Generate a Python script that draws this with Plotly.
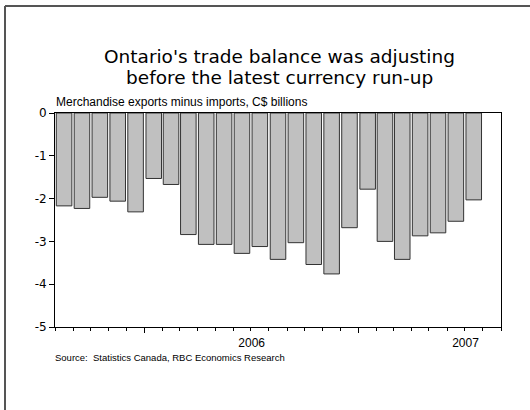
import plotly.graph_objects as go

# Ontario merchandise trade balance, monthly, C$ billions
months = [
    "2005-08", "2005-09", "2005-10", "2005-11", "2005-12",
    "2006-01", "2006-02", "2006-03", "2006-04", "2006-05", "2006-06",
    "2006-07", "2006-08", "2006-09", "2006-10", "2006-11", "2006-12",
    "2007-01", "2007-02", "2007-03", "2007-04", "2007-05", "2007-06",
    "2007-07",
]
balance = [
    -2.17, -2.23, -1.97, -2.06, -2.31,
    -1.53, -1.67, -2.84, -3.07, -3.07, -3.28,
    -3.12, -3.42, -3.03, -3.54, -3.76, -2.68,
    -1.78, -3.00, -3.42, -2.87, -2.80, -2.53,
    -2.03,
]
y_ticks = [0, -1, -2, -3, -4, -5]
y_tick_labels = ["0", "-1", "-2", "-3", "-4", "-5"]
title_lines = ["Ontario's trade balance was adjusting",
               "before the latest currency run-up"]

W, H = 530, 410
L, R, T, B = 55, 29, 113, 83          # plot area: x 55..501, y 113..327
PW, PH = W - L - R, H - T - B


def px(x):
    return (x - L) / PW


def py(y):
    return (H - B - y) / PH


fig = go.Figure()
fig.add_trace(go.Bar(
    x=[m + "-01" for m in months],
    y=balance,
    xperiod="M1",
    xperiodalignment="middle",
    marker=dict(color="#c0c0c0", line=dict(color="#333333", width=1)),
    hoverinfo="x+y",
))

fig.update_layout(
    width=W, height=H,
    margin=dict(l=L, r=R, t=T, b=B),
    paper_bgcolor="white", plot_bgcolor="white",
    showlegend=False,
    bargap=0.1,
    font=dict(family="DejaVu Sans", color="black"),
)

fig.update_xaxes(
    type="date",
    range=["2005-08-01", "2007-09-01"],
    dtick="M12", tick0="2006-01-01",
    ticklabelmode="period",
    tickformat="%Y",
    ticks="outside", ticklen=5, tickwidth=1, tickcolor="black",
    minor=dict(dtick="M1", tick0="2006-01-01", ticks="outside", ticklen=3,
               tickwidth=1, tickcolor="black", showgrid=False),
    showline=True, linecolor="black", linewidth=1, mirror=True,
    showgrid=False, zeroline=False,
    tickfont=dict(family="Liberation Sans", size=12),
)
fig.update_yaxes(
    range=[-5, 0],
    tickvals=y_ticks, ticktext=y_tick_labels,
    ticks="outside", ticklen=5, tickwidth=1, tickcolor="black",
    showline=True, linecolor="black", linewidth=1, mirror=True,
    showgrid=False, zeroline=False,
    tickfont=dict(family="DejaVu Sans", size=12),
)

# two-line heading, centred over the plot area
for line, yc in zip(title_lines, [57, 77.5]):
    fig.add_annotation(
        text=line, xref="paper", yref="paper", x=px(279), y=py(yc),
        xanchor="center", yanchor="middle", showarrow=False,
        font=dict(family="DejaVu Sans", size=18.5, color="black"),
    )

fig.add_annotation(
    text="Merchandise exports minus imports, C$ billions",
    xref="paper", yref="paper", x=px(54), y=py(93),
    xanchor="left", yanchor="top", showarrow=False,
    font=dict(family="Liberation Sans", size=12),
)
fig.add_annotation(
    text="Source:  Statistics Canada, RBC Economics Research",
    xref="paper", yref="paper", x=px(53), y=py(350),
    xanchor="left", yanchor="top", showarrow=False,
    font=dict(family="Liberation Sans", size=9.5),
)

# outer panel frame, open toward the right and bottom edges
fig.add_shape(type="line", xref="paper", yref="paper",
              x0=px(5), x1=px(600), y0=py(6), y1=py(6),
              line=dict(color="#555555", width=2))
fig.add_shape(type="line", xref="paper", yref="paper",
              x0=px(5), x1=px(5), y0=py(6), y1=py(500),
              line=dict(color="#555555", width=2))

fig.write_html("out.html")
